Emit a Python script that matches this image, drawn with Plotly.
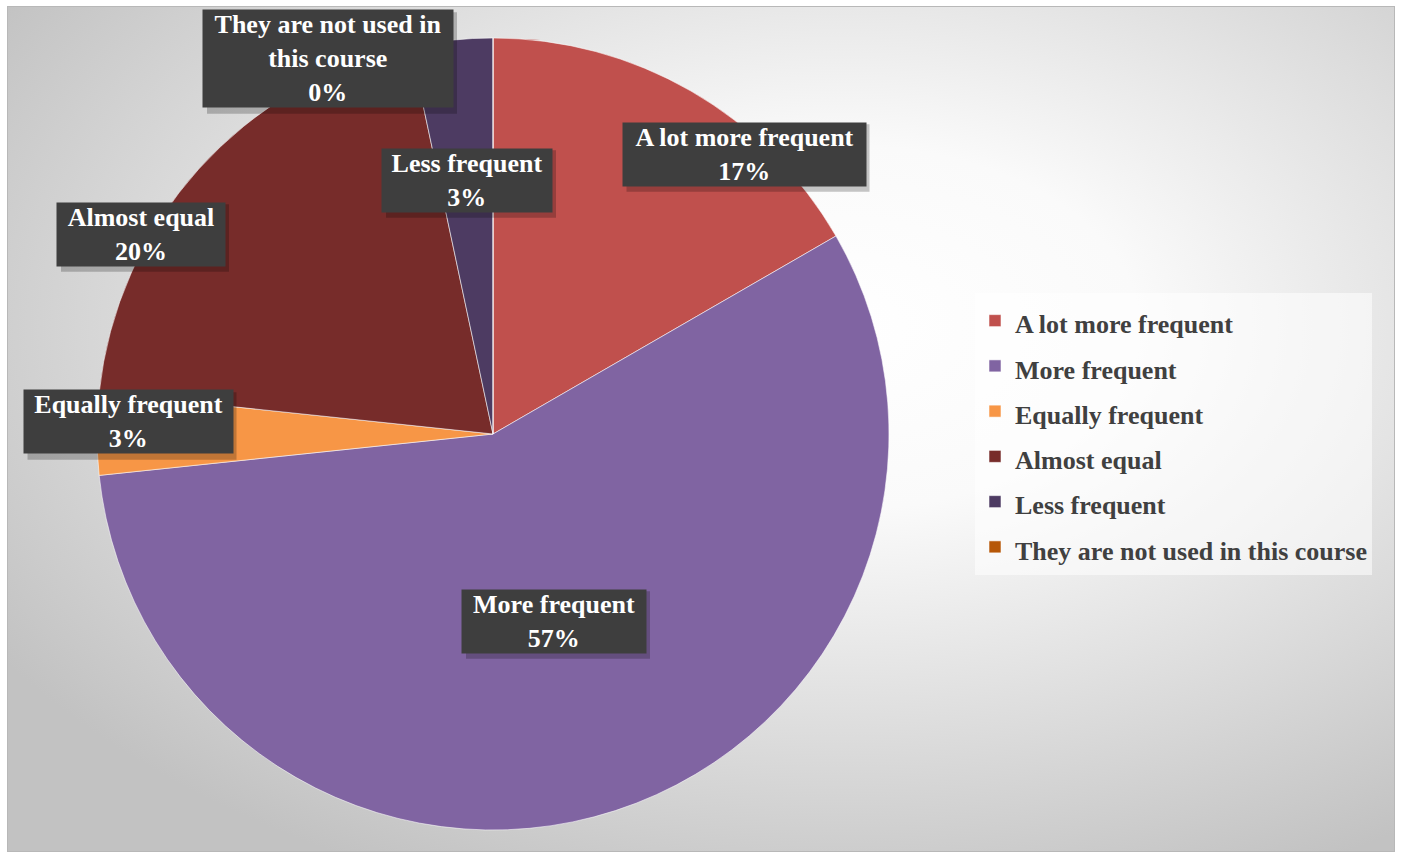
import base64
import plotly.graph_objects as go

# ---- data ----
categories = ["A lot more frequent", "More frequent", "Equally frequent",
              "Almost equal", "Less frequent", "They are not used in this course"]
counts = [5, 17, 1, 6, 1, 0]
colors = ["#C0504D", "#8064A2", "#F79646", "#772C2A", "#4D3B62", "#B65708"]
label_texts = ["A lot more frequent", "More frequent", "Equally frequent",
               "Almost equal", "Less frequent", "They are not used in<br>this course"]

W, H = 1402, 853
total = sum(counts)
pcts = [round(c / total * 100) for c in counts]

# ---- background (radial gradient frame) ----
svg = f'''<svg xmlns="http://www.w3.org/2000/svg" width="{W}" height="{H}" viewBox="0 0 {W} {H}">
<defs><radialGradient id="g" cx="0.6" cy="0.38" r="0.72">
<stop offset="0" stop-color="#ffffff"/><stop offset="0.3" stop-color="#fafafa"/>
<stop offset="1" stop-color="#c2c2c2"/></radialGradient></defs>
<rect x="0" y="0" width="{W}" height="{H}" fill="#ffffff"/>
<rect x="7.5" y="6.5" width="{W-15}" height="{H-8}" fill="url(#g)" stroke="#b8b8b8" stroke-width="1"/>
</svg>'''
bg_uri = "data:image/svg+xml;base64," + base64.b64encode(svg.encode()).decode()

fig = go.Figure()
fig.add_trace(go.Pie(
    labels=[f'<span style="font-size:26px">{c}</span>' for c in categories],
    values=counts,
    sort=False,
    direction="clockwise",
    rotation=0,
    textinfo="none",
    hoverinfo="label+percent",
    marker=dict(colors=colors, line=dict(color="rgba(255,255,255,0.55)", width=1)),
    domain=dict(x=[97 / W, 889 / W], y=[1 - 830 / H, 1 - 38 / H]),
    showlegend=True,
))

# ---- data label boxes ----
box_centers = [(744, 154), (554, 621), (128, 422), (141, 234), (467, 180), (328, 59)]
box_widths = [243, 184, 209, 168, 170, 250]
font = dict(family="Liberation Serif, Times New Roman, serif", size=26, color="#ffffff")
annotations, shapes = [], []
for i, cat in enumerate(categories):
    cx, cy = box_centers[i]
    nlines = label_texts[i].count("<br>") + 2
    bh = nlines * 26 * 1.3
    shapes.append(dict(
        type="rect", xref="paper", yref="paper", layer="above",
        x0=(cx - box_widths[i] / 2 + 4) / W, x1=(cx + box_widths[i] / 2 + 4) / W,
        y0=1 - (cy + bh / 2 + 4) / H, y1=1 - (cy - bh / 2 + 4) / H,
        fillcolor="rgba(0,0,0,0.22)", line=dict(width=0),
    ))
    annotations.append(dict(
        x=cx / W, y=1 - cy / H, xref="paper", yref="paper",
        xanchor="center", yanchor="middle",
        text=f"<b>{label_texts[i]}<br>{pcts[i]}%</b>", showarrow=False,
        width=box_widths[i], borderpad=0, bgcolor="#3e3e3e", font=font,
    ))

fig.update_layout(
    width=W, height=H,
    margin=dict(l=0, r=0, t=0, b=0),
    paper_bgcolor="#ffffff",
    images=[dict(source=bg_uri, xref="paper", yref="paper", x=0, y=1,
                 sizex=1, sizey=1, xanchor="left", yanchor="top",
                 sizing="stretch", layer="below")],
    legend=dict(
        x=975 / W, y=1 - 293 / H, xanchor="left", yanchor="top",
        bgcolor="rgba(255,255,255,0.55)",
        font=dict(family="Liberation Serif, Times New Roman, serif", size=32.5,
                  color="#404040", weight="bold"),
        itemclick=False,
    ),
    shapes=shapes,
    annotations=annotations,
)

fig.write_html("out.html")
